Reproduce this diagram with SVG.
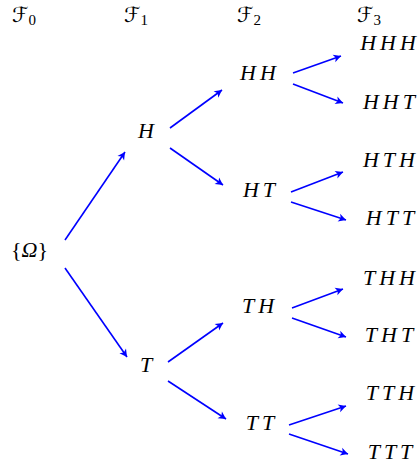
<svg xmlns="http://www.w3.org/2000/svg" width="419" height="468" viewBox="0 0 419 468">
  <defs>
    <marker id="arr" viewBox="-8 -5 9 10" refX="0" refY="0" markerWidth="9" markerHeight="10" markerUnits="userSpaceOnUse" orient="auto">
      <path d="M-7.5,-4 L0,0 L-7.5,4 L-5.5,0 Z" fill="#0000ff"/>
    </marker>
  </defs>

  <!-- column headers: sigma-algebras F0..F3 -->
  <g id="headers" fill="#000">
    <text x="12" y="22" font-family="DejaVu Sans" font-size="21">ℱ<tspan font-family="Liberation Serif" font-size="15" dy="3">0</tspan></text>
    <text x="124" y="22" font-family="DejaVu Sans" font-size="21">ℱ<tspan font-family="Liberation Serif" font-size="15" dy="3">1</tspan></text>
    <text x="237" y="22" font-family="DejaVu Sans" font-size="21">ℱ<tspan font-family="Liberation Serif" font-size="15" dy="3">2</tspan></text>
    <text x="357" y="22" font-family="DejaVu Sans" font-size="21">ℱ<tspan font-family="Liberation Serif" font-size="15" dy="3">3</tspan></text>
  </g>

  <!-- branches: shared stroke and arrowhead set on the group -->
  <g id="connectors" stroke="#0000ff" stroke-width="1.6" fill="none" marker-end="url(#arr)">
    <line x1="65" y1="240" x2="125" y2="152"/>
    <line x1="65" y1="268" x2="127" y2="357"/>
    <line x1="170" y1="128" x2="222" y2="90"/>
    <line x1="170" y1="148" x2="223" y2="185"/>
    <line x1="168" y1="362" x2="223" y2="323"/>
    <line x1="168" y1="381" x2="226" y2="419"/>
    <line x1="293" y1="73" x2="341" y2="56"/>
    <line x1="293" y1="84" x2="343" y2="103"/>
    <line x1="291" y1="192" x2="343" y2="172"/>
    <line x1="291" y1="202" x2="346" y2="220"/>
    <line x1="292" y1="308" x2="343" y2="289"/>
    <line x1="292" y1="318" x2="346" y2="337"/>
    <line x1="289" y1="425" x2="346" y2="406"/>
    <line x1="289" y1="434" x2="348" y2="454"/>
  </g>

  <!-- root -->
  <g id="omega" fill="#000">
    <text x="11" y="257" font-family="Liberation Serif" font-size="22">{<tspan font-style="italic">Ω</tspan>}</text>
  </g>

  <!-- outcome labels -->
  <g font-size="22" letter-spacing="4" text-anchor="middle" fill="#000">
    <g id="H"><text x="148" y="138" font-family="Liberation Serif" font-style="italic">H</text></g>
    <g id="T"><text x="148" y="372" font-family="Liberation Serif" font-style="italic">T</text></g>

    <g id="HH"><text x="260" y="80" font-family="Liberation Serif" font-style="italic">HH</text></g>
    <g id="HT"><text x="261" y="197" font-family="Liberation Serif" font-style="italic">HT</text></g>
    <g id="TH"><text x="260" y="313" font-family="Liberation Serif" font-style="italic">TH</text></g>
    <g id="TT"><text x="262" y="430" font-family="Liberation Serif" font-style="italic">TT</text></g>

    <g id="HHH"><text x="390" y="50" font-family="Liberation Serif" font-style="italic">HHH</text></g>
    <g id="HHT"><text x="391" y="109" font-family="Liberation Serif" font-style="italic">HHT</text></g>
    <g id="HTH"><text x="391" y="167" font-family="Liberation Serif" font-style="italic">HTH</text></g>
    <g id="HTT"><text x="392" y="225" font-family="Liberation Serif" font-style="italic">HTT</text></g>
    <g id="THH"><text x="391" y="285" font-family="Liberation Serif" font-style="italic">THH</text></g>
    <g id="THT"><text x="391" y="342" font-family="Liberation Serif" font-style="italic">THT</text></g>
    <g id="TTH"><text x="392" y="400" font-family="Liberation Serif" font-style="italic">TTH</text></g>
    <g id="TTT"><text x="392" y="459" font-family="Liberation Serif" font-style="italic">TTT</text></g>
  </g>
</svg>
